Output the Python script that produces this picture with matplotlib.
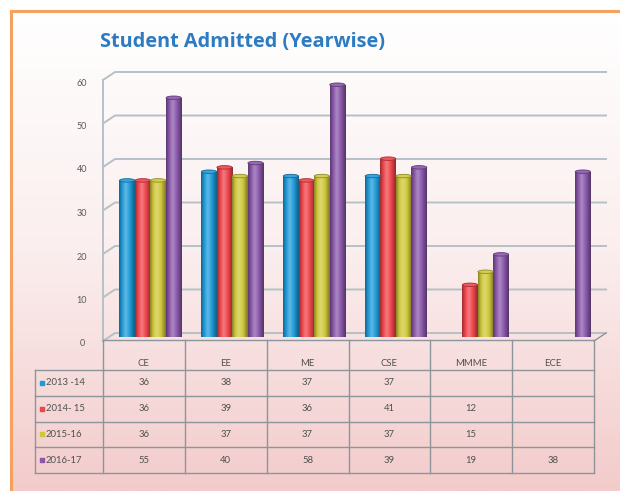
import numpy as np
import matplotlib
matplotlib.use("Agg")
import matplotlib.pyplot as plt
from matplotlib.colors import LinearSegmentedColormap, to_rgb
from matplotlib.patches import Rectangle, Ellipse

# datos del grafico
categories = ["CE", "EE", "ME", "CSE", "MMME", "ECE"]
years = ["2013 -14", "2014- 15", "2015-16", "2016-17"]
y2013 = [36, 38, 37, 37, None, None]
y2014 = [36, 39, 36, 41, 12, None]
y2015 = [36, 37, 37, 37, 15, None]
y2016 = [55, 40, 58, 39, 19, 38]
series = [y2013, y2014, y2015, y2016]
colors = ["#1E9AD8", "#EE444B", "#CFC73A", "#8A57AA"]
yticks = [0, 10, 20, 30, 40, 50, 60]

plt.rcParams["font.family"] = ["Lato", "DejaVu Sans"]

W, H = 620, 491
fig = plt.figure(figsize=(W / 100, H / 100), dpi=100)


def mix(c, other, t):
    c = np.array(to_rgb(c))
    return tuple(c * (1 - t) + np.array(other) * t)


# fondo con degradado y borde naranja
bg = fig.add_axes([0, 0, 1, 1], zorder=-10)
grad = np.linspace(0, 1, 256)[:, None]
cmap_bg = LinearSegmentedColormap.from_list("bg", ["#ffffff", "#fbeeee", "#f3cbcb"])
bg.imshow(grad, extent=[11, W, H, 11], cmap=cmap_bg, aspect="auto")
bg.plot([11, W], [11, 11], color="#F6A25E", lw=2.2)
bg.plot([11, 11], [11, H], color="#F6A25E", lw=2.2)
bg.set_xlim(0, W)
bg.set_ylim(H, 0)
bg.axis("off")

# area de barras
ax = fig.add_axes([103 / W, (H - 337) / H, 491 / W, 261 / H])
ux = 6 / 491   # unidades x por pixel
uy = 60 / 261  # unidades y por pixel

grid_c = "#B5C1C6"
for v in yticks:
    ax.plot([-0.5, -0.5 + 12 * ux, 5.5 + 12 * ux],
            [v - 4 * uy, v + 4 * uy, v + 4 * uy],
            color=grid_c, lw=1.4, clip_on=False, zorder=1)
    ax.text(-0.5 - 21 * ux, v - 7 * uy, str(v), ha="center", va="center",
            fontsize=6.5, color="#5a5a5a")
ax.plot([-0.5, -0.5], [-4 * uy, 60 - 4 * uy], color=grid_c, lw=1.4,
        clip_on=False, zorder=1)
ax.plot([5.5, 5.5 + 12 * ux], [-4 * uy, 4 * uy], color="#8E959A", lw=1,
        clip_on=False, zorder=1)

# barras cilindricas
w = 15.5 * ux
shift = 6.5 * ux
row = np.linspace(0, 1, 64)[None, :]
for k, (vals, c) in enumerate(zip(series, colors)):
    cm = LinearSegmentedColormap.from_list(
        "cyl%d" % k,
        [(0, mix(c, (0, 0, 0), 0.35)), (0.2, to_rgb(c)), (0.42, mix(c, (1, 1, 1), 0.3)),
         (0.7, to_rgb(c)), (1, mix(c, (0, 0, 0), 0.4))])
    for i, v in enumerate(vals):
        if v is None:
            continue
        x0 = i + shift + (k - 2) * w
        rect = Rectangle((x0, 0), w, v, facecolor="none", edgecolor="none")
        ax.add_patch(rect)
        im = ax.imshow(row, extent=[x0, x0 + w, 0, v], cmap=cm, aspect="auto",
                       interpolation="bicubic", zorder=3)
        im.set_clip_path(rect)
        ax.add_patch(Ellipse((x0 + w / 2, v), w * 0.98, 3.5 * uy,
                             facecolor=mix(c, (1, 1, 1), 0.1),
                             edgecolor=mix(c, (0, 0, 0), 0.3), lw=0.6, zorder=4))

ax.set_xlim(-0.5, 5.5)
ax.set_ylim(0, 60)
ax.axis("off")

# tabla de datos
tax = fig.add_axes([35 / W, (H - 473) / H, (594 - 35) / W, (473 - 340) / H])
xl = -0.5 - 68 * ux
hd = -30 / 25.75
tax.set_xlim(xl, 5.5)
tax.set_ylim(4, hd)
tax.axis("off")
line_c = "#8E959A"
for r in range(5):
    tax.plot([xl, 5.5], [r, r], color=line_c, lw=1, clip_on=False)
tax.plot([-0.5, 5.5], [hd, hd], color=line_c, lw=1, clip_on=False)
tax.plot([xl, xl], [0, 4], color=line_c, lw=1, clip_on=False)
for j in range(7):
    tax.plot([j - 0.5, j - 0.5], [hd, 4], color=line_c, lw=1, clip_on=False)

txt_c = "#505050"
for i, cat in enumerate(categories):
    tax.text(i, -0.27, cat, ha="center", va="center", fontsize=6.8, color=txt_c)
for k, (yr, vals, c) in enumerate(zip(years, series, colors)):
    tax.scatter([xl + 7 * ux], [k + 0.5], marker="s", s=10, color=c, clip_on=False)
    tax.text(xl + 11 * ux, k + 0.5, yr, ha="left", va="center", fontsize=6.8, color=txt_c)
    for i, v in enumerate(vals):
        if v is not None:
            tax.text(i, k + 0.5, str(v), ha="center", va="center", fontsize=6.8, color=txt_c)

fig.text(100 / W, 1 - 42 / H, "Student Admitted (Yearwise)", fontsize=14.3,
         weight="bold", color="#2C7BC3", va="center", family=["Open Sans", "DejaVu Sans"])

fig.savefig("out.png", dpi=100)
